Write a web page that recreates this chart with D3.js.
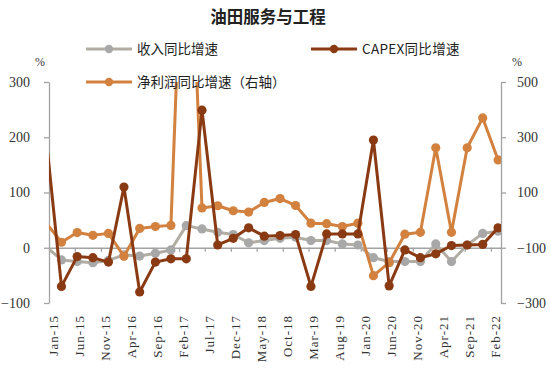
<!DOCTYPE html>
<html>
<head>
<meta charset="utf-8">
<script src="https://cdn.jsdelivr.net/npm/d3@7/dist/d3.min.js"></script>
<style>
  body { margin: 0; background: #fff; }
  svg { display: block; }
</style>
</head>
<body>
<script>
// quarterly points (Dec-14 lies just left of the axis and gets clipped)
var quarters = ["Dec-14", "Mar-15", "Jun-15", "Sep-15", "Dec-15", "Mar-16", "Jun-16", "Sep-16", "Dec-16",
  "Mar-17", "Jun-17", "Sep-17", "Dec-17", "Mar-18", "Jun-18", "Sep-18", "Dec-18", "Mar-19", "Jun-19",
  "Sep-19", "Dec-19", "Mar-20", "Jun-20", "Sep-20", "Dec-20", "Mar-21", "Jun-21", "Sep-21", "Dec-21", "Mar-22"];
var revenue = [2, -22, -25, -27, -23, -13, -15, -10, -4, 40, 34, 28, 24, 9, 13, 17, 19, 13, 13, 7, 5,
  -18, -25, -25, -25, 7, -25, 5, 26, 30];
var capex = [200, -70, -16, -18, -26, 110, -80, -26, -20, -20, 249, 5, 17, 36, 21, 22, 24, -70, 25, 25, 25,
  195, -69, -4, -18, -11, 4, 5, 6, 36];
var profit = [-10, -80, -45, -55, -48, -131, -30, -23, -19, 1450, 44, 52, 34, 29, 64, 78, 53, -11, -13, -23, -11,
  -201, -154, -51, -44, 262, -44, 262, 370, 218];
var tickLabels = ["Jan-15", "Jun-15", "Nov-15", "Apr-16", "Sep-16", "Feb-17", "Jul-17", "Dec-17", "May-18",
  "Oct-18", "Mar-19", "Aug-19", "Jan-20", "Jun-20", "Nov-20", "Apr-21", "Sep-21", "Feb-22"];
var leftTicks = [-100, 0, 100, 200, 300];
var rightTicks = [-300, -100, 100, 300, 500];

var width = 550;
var height = 370;
var plot = { left: 49, right: 501, top: 82, bottom: 303 };
var axisColor = "#a3a3a3";
var serif = "'Liberation Serif', 'Times New Roman', serif";
var cjk = "'Noto Sans CJK SC', sans-serif";

var svg = d3.select("body").append("svg")
    .attr("width", width)
    .attr("height", height);

var parseMonth = d3.timeParse("%b-%y");
var dates = quarters.map(function (q) { return d3.timeDay.offset(parseMonth(q), 14); });
var tickDates = tickLabels.map(parseMonth);

var x = d3.scaleTime()
    .domain([parseMonth("Jan-15"), parseMonth("Apr-22")])
    .range([plot.left, plot.right]);
var yLeft = d3.scaleLinear().domain([-100, 300]).range([plot.bottom, plot.top]);
var yRight = d3.scaleLinear().domain([-300, 500]).range([plot.bottom, plot.top]);

// title
svg.append("text")
    .attr("x", 268).attr("y", 23)
    .attr("text-anchor", "middle")
    .style("font-family", cjk).style("font-size", "16.5px").style("font-weight", "bold")
    .attr("fill", "#222")
    .text("油田服务与工程");

// axes
var leftAxis = svg.append("g")
    .attr("transform", "translate(" + plot.left + ",0)")
    .call(d3.axisLeft(yLeft).tickValues(leftTicks).tickSize(5).tickSizeOuter(0).tickPadding(14));
var rightAxis = svg.append("g")
    .attr("transform", "translate(" + plot.right + ",0)")
    .call(d3.axisRight(yRight).tickValues(rightTicks).tickSize(5).tickSizeOuter(0).tickPadding(11));
var xAxis = svg.append("g")
    .attr("transform", "translate(0," + yLeft(0) + ")")
    .call(d3.axisBottom(x).tickValues(tickDates).tickFormat(d3.timeFormat("%b-%y")).tickSize(4).tickSizeOuter(0));

[leftAxis, rightAxis, xAxis].forEach(function (g) {
  g.select(".domain").attr("stroke", axisColor).attr("stroke-width", 1.3);
  g.selectAll(".tick line").attr("stroke", axisColor).attr("stroke-width", 1.3);
  g.selectAll("text").style("font-family", serif).attr("fill", "#333");
});
leftAxis.selectAll("text").style("font-size", "14px");
rightAxis.selectAll("text").style("font-size", "14px");
xAxis.selectAll("text")
    .style("font-size", "13px").style("letter-spacing", "1px")
    .attr("x", 0).attr("y", 0).attr("dy", "0.35em")
    .attr("text-anchor", "end")
    .attr("transform", "translate(4," + (315 - yLeft(0)) + ") rotate(-90)");

// unit labels
svg.append("text").attr("x", 40).attr("y", 66).attr("text-anchor", "middle")
    .style("font-family", serif).style("font-size", "12px").attr("fill", "#333").text("%");
svg.append("text").attr("x", 517).attr("y", 66).attr("text-anchor", "middle")
    .style("font-family", serif).style("font-size", "12px").attr("fill", "#333").text("%");

svg.append("clipPath").attr("id", "plotClip")
  .append("rect")
    .attr("x", plot.left).attr("y", plot.top)
    .attr("width", plot.right - plot.left).attr("height", plot.bottom - plot.top);

var series = [
  { name: "收入同比增速", values: revenue, y: yLeft, line: "#b2ada3", dot: "#a8a8a8" },
  { name: "净利润同比增速（右轴）", values: profit, y: yRight, line: "#d2813f", dot: "#d2813f" },
  { name: "CAPEX同比增速", values: capex, y: yLeft, line: "#8a3a12", dot: "#8a3a12" }
];

var lines = svg.append("g").attr("clip-path", "url(#plotClip)");
series.forEach(function (s) {
  var pts = dates.map(function (d, i) { return [x(d), s.y(s.values[i])]; });
  lines.append("path")
      .attr("d", d3.line()(pts))
      .attr("fill", "none")
      .attr("stroke", s.line)
      .attr("stroke-width", 3)
      .attr("stroke-linejoin", "round");
  // only points inside the date range get a marker
  lines.selectAll(null).data(pts.filter(function (p) { return p[0] >= plot.left; }))
    .enter().append("circle")
      .attr("cx", function (p) { return p[0]; })
      .attr("cy", function (p) { return p[1]; })
      .attr("r", 4.6)
      .attr("fill", s.dot);
});

// legend
var legendItems = [
  { s: series[0], x: 86, y: 49 },
  { s: series[2], x: 311, y: 49 },
  { s: series[1], x: 86, y: 82 }
];
legendItems.forEach(function (it) {
  var g = svg.append("g").attr("transform", "translate(" + it.x + "," + it.y + ")");
  g.append("line").attr("x1", 0).attr("x2", 46).attr("y1", 0).attr("y2", 0)
      .attr("stroke", it.s.line).attr("stroke-width", 3);
  g.append("circle").attr("cx", 23).attr("cy", 0).attr("r", 4.2).attr("fill", it.s.dot);
  g.append("text").attr("x", 51).attr("y", 0).attr("dy", "0.36em")
      .style("font-family", cjk).style("font-size", "13.5px")
      .style("letter-spacing", it.s.name.indexOf("CAPEX") === 0 ? "0.3px" : "0px")
      .attr("fill", "#222")
      .text(it.s.name);
});
</script>
</body>
</html>
